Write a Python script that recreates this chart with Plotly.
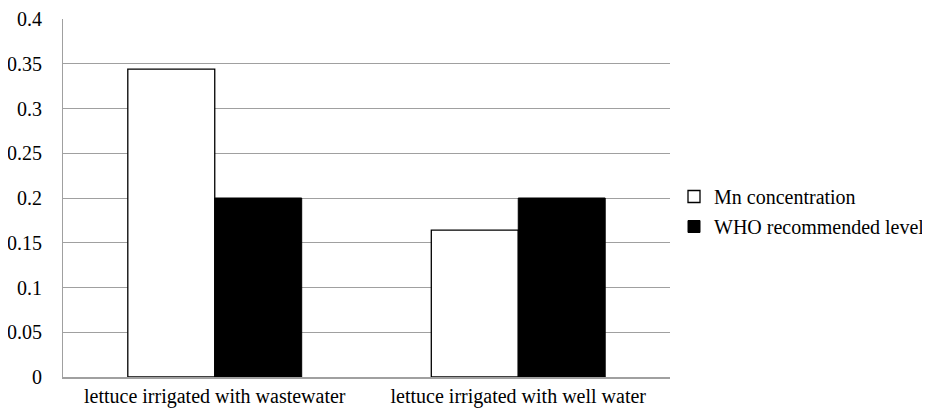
import plotly.graph_objects as go

categories = ["lettuce irrigated with wastewater", "lettuce irrigated with well water"]
mn_concentration = [0.344, 0.164]
who_level = [0.2, 0.2]
y_ticks = [0, 0.05, 0.1, 0.15, 0.2, 0.25, 0.3, 0.35, 0.4]
y_tick_labels = ["0", "0.05", "0.1", "0.15", "0.2", "0.25", "0.3", "0.35", "0.4"]

FONT = "Liberation Serif"
FS = 20

fig = go.Figure()
fig.add_trace(go.Bar(x=categories, y=mn_concentration, name="Mn concentration",
                     marker=dict(color="white", line=dict(color="black", width=1.3)),
                     legendgroup="a"))
fig.add_trace(go.Bar(x=categories, y=who_level, name="WHO recommended level",
                     marker=dict(color="black", line=dict(color="black", width=1)),
                     legendgroup="b"))

fig.update_layout(
    width=930, height=413,
    margin=dict(l=55, r=268, t=11, b=44, autoexpand=False),
    paper_bgcolor="white", plot_bgcolor="white",
    font=dict(family=FONT, size=FS, color="black"),
    barmode="group", bargap=0.427, bargroupgap=0,
    showlegend=True,
    legend=dict(xref="container", yref="container", x=666 / 930, y=1 - 169 / 413,
                xanchor="left", yanchor="top",
                font=dict(family=FONT, size=FS, color="black"),
                itemwidth=30, tracegroupgap=1, bgcolor="rgba(0,0,0,0)"),
    xaxis=dict(showline=True, linecolor="#a0a0a0", linewidth=2, ticks="",
               showgrid=False, tickfont=dict(family=FONT, size=FS)),
    yaxis=dict(range=[0, 0.4], tickvals=y_ticks, ticktext=y_tick_labels,
               showgrid=True, gridcolor="#a0a0a0", gridwidth=1,
               showline=True, linecolor="#a0a0a0", linewidth=1, ticks="",
               zeroline=False, ticklabelstandoff=16,
               tickfont=dict(family=FONT, size=FS)),
)

fig.write_html("out.html")
